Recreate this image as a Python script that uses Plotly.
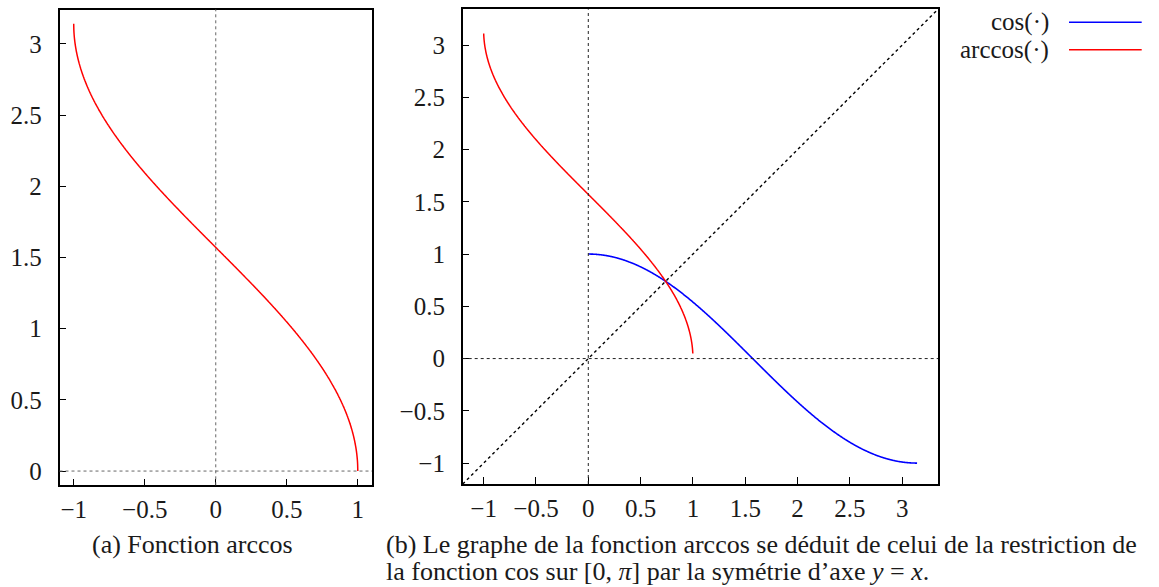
import numpy as np
import plotly.graph_objects as go

# ---------------- data ----------------
# (a) arccos on [-1, 1]
x_arccos_a = np.linspace(-1.0, 1.0, 2001)
y_arccos_a = np.arccos(x_arccos_a)

# (b) arccos and cos restricted to [0, pi], plus the line y = x
x_arccos_b = np.linspace(-0.9995, 0.9988, 1501)
y_arccos_b = np.arccos(x_arccos_b)
x_cos_b = np.linspace(0.0, np.pi, 1001)
y_cos_b = np.cos(x_cos_b)
x_diag = [-1.2, np.pi + 0.2]
y_diag = [-1.2, np.pi + 0.2]

xticks_a = [-1, -0.5, 0, 0.5, 1]
xtick_text_a = ["−1", "−0.5", "0", "0.5", "1"]
yticks_a = [0, 0.5, 1, 1.5, 2, 2.5, 3]
ytick_text_a = ["0", "0.5", "1", "1.5", "2", "2.5", "3"]

xticks_b = [-1, -0.5, 0, 0.5, 1, 1.5, 2, 2.5, 3]
xtick_text_b = ["−1", "−0.5", "0", "0.5", "1", "1.5", "2", "2.5", "3"]
yticks_b = [-1, -0.5, 0, 0.5, 1, 1.5, 2, 2.5, 3]
ytick_text_b = ["−1", "−0.5", "0", "0.5", "1", "1.5", "2", "2.5", "3"]

legend_labels = ["cos(·)", "arccos(·)"]
legend_colors = ["#0000ff", "#ff0000"]

caption_a = "(a) Fonction arccos"
caption_b1 = "(b) Le graphe de la fonction arccos se déduit de celui de la restriction de"
caption_b2 = "la fonction cos sur [0, <i>π</i>] par la symétrie d’axe <i>y</i> = <i>x</i>."

# ---------------- figure ----------------
W, H = 1159, 587
FONT = "Liberation Serif, Times New Roman, DejaVu Serif, serif"
TXT = "#1a1a1a"

def px_x(p):
    return p / W

def px_y(p):
    return 1 - p / H

fig = go.Figure()

fig.add_trace(go.Scatter(x=x_arccos_a, y=y_arccos_a, mode="lines",
                         line=dict(color="#ff0000", width=1.5, simplify=False),
                         xaxis="x", yaxis="y", showlegend=False))

fig.add_trace(go.Scatter(x=x_diag, y=y_diag, mode="lines",
                         line=dict(color="black", width=1.4, dash="dot"),
                         xaxis="x2", yaxis="y2", showlegend=False))
fig.add_trace(go.Scatter(x=x_cos_b, y=y_cos_b, mode="lines",
                         line=dict(color=legend_colors[0], width=1.6, simplify=False),
                         xaxis="x2", yaxis="y2", showlegend=False))
fig.add_trace(go.Scatter(x=x_arccos_b, y=y_arccos_b, mode="lines",
                         line=dict(color=legend_colors[1], width=1.5, simplify=False),
                         xaxis="x2", yaxis="y2", showlegend=False))

axis_common = dict(showgrid=False, zeroline=False, showline=True, linecolor="black",
                   linewidth=1.5, mirror=True, ticks="inside", ticklen=7, tickwidth=1.2,
                   tickcolor="black", tickfont=dict(family=FONT, size=25, color=TXT))

fig.update_layout(
    width=W, height=H,
    margin=dict(l=0, r=0, t=0, b=0),
    paper_bgcolor="white", plot_bgcolor="white",
    showlegend=False,
    font=dict(family=FONT, color=TXT),
    xaxis=dict(domain=[px_x(59.5), px_x(372)], range=[-1.1, 1.1], anchor="y",
               tickvals=xticks_a, ticktext=xtick_text_a, ticklabelstandoff=1, **axis_common),
    yaxis=dict(domain=[px_y(485.3), px_y(9.5)], range=[-0.1, np.pi + 0.1], anchor="x",
               tickvals=yticks_a, ticktext=ytick_text_a, ticklabelstandoff=11, **axis_common),
    xaxis2=dict(domain=[px_x(462.7), px_x(938)], range=[-1.2, np.pi + 0.2], anchor="y2",
                tickvals=xticks_b, ticktext=xtick_text_b, ticklabelstandoff=1, **axis_common),
    yaxis2=dict(domain=[px_y(484), px_y(9.3)], range=[-1.2, np.pi + 0.2], anchor="x2",
                tickvals=yticks_b, ticktext=ytick_text_b, ticklabelstandoff=11, **axis_common),
)

# dotted zero lines
shapes = []
zero_colors = ["#666666", "#222222"]
for (xr, yr), zc in zip((("x", "y"), ("x2", "y2")), zero_colors):
    shapes.append(dict(type="line", xref=xr, yref=f"{yr} domain",
                       x0=0, x1=0, y0=0, y1=1,
                       line=dict(color=zc, width=1, dash="dot")))
    shapes.append(dict(type="line", xref=f"{xr} domain", yref=yr,
                       x0=0, x1=1, y0=0, y1=0,
                       line=dict(color=zc, width=1, dash="dot")))

# legend samples (manual, gnuplot style: text then line)
leg_y = [22.3, 49.7]
for yy, col in zip(leg_y, legend_colors):
    shapes.append(dict(type="line", xref="paper", yref="paper",
                       x0=px_x(1069), x1=px_x(1141.7), y0=px_y(yy), y1=px_y(yy),
                       line=dict(color=col, width=1.5)))
fig.update_layout(shapes=shapes)

annotations = []
for yy, lab in zip(leg_y, legend_labels):
    annotations.append(dict(text=lab, xref="paper", yref="paper", x=px_x(1051), y=px_y(yy),
                            xanchor="right", yanchor="middle", showarrow=False,
                            font=dict(family=FONT, size=25, color=TXT)))
annotations.append(dict(text=caption_a, xref="paper", yref="paper", x=px_x(192.5), y=px_y(544),
                        xanchor="center", yanchor="middle", showarrow=False,
                        font=dict(family=FONT, size=26, color=TXT)))
annotations.append(dict(text=caption_b1, xref="paper", yref="paper", x=px_x(384), y=px_y(544),
                        xanchor="left", yanchor="middle", showarrow=False,
                        font=dict(family=FONT, size=26, color=TXT)))
annotations.append(dict(text=caption_b2, xref="paper", yref="paper", x=px_x(384), y=px_y(571),
                        xanchor="left", yanchor="middle", showarrow=False,
                        font=dict(family=FONT, size=26, color=TXT)))
fig.update_layout(annotations=annotations)

fig.write_html("out.html")
